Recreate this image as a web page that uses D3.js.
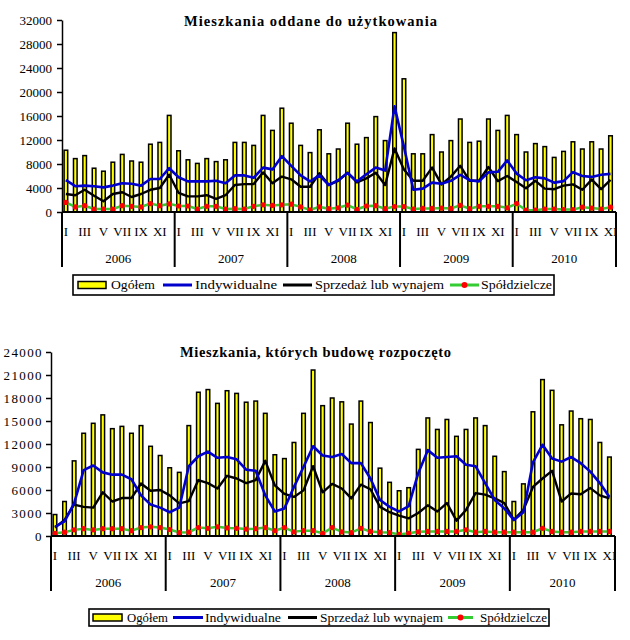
<!DOCTYPE html>
<html><head><meta charset="utf-8">
<script src="https://cdn.jsdelivr.net/npm/d3@7/dist/d3.min.js"></script>
<style>
body{margin:0;background:#fff}
svg{display:block}
text{font-family:"Liberation Serif","Times New Roman",Tinos,serif;fill:#000}
</style>
</head><body>
<svg id="chart" width="630" height="640"></svg>
<script>
// ---------- DATA ----------
const years = ["2006", "2007", "2008", "2009", "2010"];
const romanMonths = ["I","II","III","IV","V","VI","VII","VIII","IX","X","XI","XII"];
const shownMonthLabels = ["I","III","V","VII","IX","XI"];
const seriesNames = ["Ogółem", "Indywidualne", "Sprzedaż lub wynajem", "Spółdzielcze"];
const titleTop = "Mieszkania oddane do użytkowania";
const titleBottom = "Mieszkania, których budowę rozpoczęto";
const yTicksTop = [0, 4000, 8000, 12000, 16000, 20000, 24000, 28000, 32000];
const yTicksBottom = [0, 3000, 6000, 9000, 12000, 15000, 18000, 21000, 24000];

// Mieszkania oddane do użytkowania (I 2006 – XI 2010)
const completedTotal = [
  10300, 8900, 9400, 7300, 6800, 8300, 9600, 8500, 8300, 11300, 11600, 16100,
  10200, 8700, 8100, 8900, 8400, 8700, 11600, 11600, 11100, 16100, 13600, 17300,
  14800, 11100, 9900, 13700, 9700, 10500, 14800, 11300, 12400, 15900, 11900, 29900,
  22200, 9700, 9700, 12900, 10000, 11900, 15500, 11600, 11800, 15500, 13600, 16100,
  12900, 10000, 11400, 10900, 9100, 10100, 11700, 10500, 11700, 10500, 12700
];
const completedIndividual = [
  5300, 4300, 4400, 4300, 4100, 4400, 4800, 4700, 4400, 5500, 5500, 7300,
  5800, 5100, 5100, 5100, 5200, 4800, 6100, 6100, 5700, 7400, 7100, 9300,
  7700, 6100, 5100, 6100, 4500, 5300, 6500, 5100, 6300, 7400, 6900, 17600,
  10900, 3700, 3900, 4900, 4700, 5200, 6200, 5300, 5100, 6600, 6700, 8600,
  6400, 5300, 5800, 5600, 4900, 5150, 6650, 6000, 5850, 6200, 6350
];
const completedSale = [
  3000, 2800, 3700, 2700, 1800, 3000, 3300, 2500, 3000, 3700, 4000, 6200,
  3200, 2600, 2600, 2800, 2200, 2800, 4500, 4650, 4650, 6600, 4800, 5900,
  5450, 4200, 4200, 6450, 4500, 5200, 6550, 4950, 5600, 6550, 4500, 10600,
  7100, 5200, 5200, 7400, 4600, 5900, 7700, 5200, 5200, 7500, 5150, 6000,
  5000, 3950, 5200, 3900, 3800, 4400, 4600, 3700, 5400, 3800, 5350
];
const completedCoop = [
  1600, 850, 1050, 500, 500, 500, 1050, 950, 850, 1400, 1050, 1350,
  1000, 1000, 500, 950, 950, 500, 550, 500, 950, 1200, 1100, 1200,
  1300, 850, 350, 850, 550, 700, 1150, 450, 1000, 1050, 550, 900,
  900, 500, 600, 600, 650, 600, 1100, 550, 950, 950, 950, 700,
  1400, 300, 300, 500, 500, 400, 400, 800, 650, 500, 800
];

// Mieszkania, których budowę rozpoczęto (I 2006 – XI 2010)
const startedTotal = [
  2800, 4500, 9800, 13400, 14700, 15800, 14000, 14300, 13400, 14400, 11700, 10500,
  8900, 8300, 14400, 18750, 19100, 17300, 18950, 18600, 17450, 17600, 16000, 10600,
  10100, 12200, 16000, 21650, 17000, 18000, 17500, 14600, 17600, 14800, 8850, 7000,
  5900, 6300, 11300, 15400, 13900, 15200, 13000, 13900, 15400, 14400, 10400, 8400,
  4500, 6800, 16200, 20400, 19000, 14500, 16300, 15300, 15200, 12200, 10300
];
const startedIndividual = [
  1200, 1900, 4250, 8600, 9200, 8300, 8000, 8000, 7400, 5300, 4100, 3700,
  3100, 3700, 9100, 10400, 11000, 10200, 10300, 10000, 8650, 8500, 5300, 3200,
  3600, 6400, 9000, 11700, 10500, 10300, 10700, 9500, 9500, 7500, 4700, 3800,
  3200, 3900, 8200, 11200, 10200, 10300, 10400, 9300, 9100, 6900, 4700, 3600,
  2100, 3100, 9600, 11900, 10100, 9700, 10300, 9500, 8400, 6900, 5100
];
const startedSale = [
  1100, 2100, 4100, 3800, 3700, 5700, 4500, 4950, 4950, 6850, 5900, 6000,
  5300, 4250, 4550, 7300, 6900, 6200, 7850, 7500, 6900, 7300, 9800, 6600,
  5500, 5100, 5950, 9100, 5700, 6800, 6200, 4900, 6700, 6100, 3800, 3100,
  2650, 2300, 3000, 4000, 3200, 4300, 2000, 3400, 5600, 5400, 4900, 4300,
  2100, 3400, 6400, 7500, 8500, 4500, 5550, 5450, 6250, 5300, 4900
];
const startedCoop = [
  350, 500, 800, 950, 800, 950, 950, 950, 700, 1100, 1200, 1100,
  850, 450, 500, 1100, 1000, 1200, 1050, 1000, 900, 950, 1100, 700,
  1100, 550, 700, 700, 350, 1100, 550, 450, 1000, 600, 500, 450,
  200, 350, 550, 600, 600, 600, 600, 800, 500, 600, 500, 500,
  500, 500, 500, 1000, 600, 500, 500, 600, 600, 600, 600
];

// ---------- BUILD ----------
const months = [];
years.forEach((yr, yi) => romanMonths.forEach((m, mi) => {
  if (months.length < completedTotal.length) months.push({key: yr + "-" + m, year: yr, yi, mi, roman: m});
}));

const colors = {bar: "#ffff00", ind: "#0000cc", sale: "#000000", coop: "#33cc33", dot: "#ff0000"};
const FONT = '"Liberation Serif","Times New Roman",Tinos,serif';
const svg = d3.select("#chart");

function drawPanel(cfg) {
  const g = svg.append("g");
  const x = d3.scaleBand().domain(months.map(d => d.key)).range([cfg.x0, cfg.x1]).paddingInner(0).paddingOuter(0);
  const y = d3.scaleLinear().domain([0, cfg.max]).range([cfg.y0, cfg.y1]);
  const cx = k => x(k) + x.bandwidth() / 2 - 0.8;

  // bars
  const bw = 3.6;
  g.append("g").selectAll("rect").data(months).join("rect")
    .attr("x", (d) => cx(d.key) - bw / 2)
    .attr("y", (d, i) => y(cfg.total[i]))
    .attr("width", bw)
    .attr("height", (d, i) => cfg.y0 - y(cfg.total[i]))
    .attr("fill", colors.bar).attr("stroke", "#000").attr("stroke-width", 1.5);

  const lineGen = arr => d3.line().x((d) => cx(d.key)).y((d, i) => y(arr[i]))(months);

  g.append("path").attr("d", lineGen(cfg.coop)).attr("fill", "none")
    .attr("stroke", colors.coop).attr("stroke-width", 2.5);
  g.append("g").selectAll("circle").data(months).join("circle")
    .attr("cx", d => cx(d.key)).attr("cy", (d, i) => y(cfg.coop[i])).attr("r", 2.6)
    .attr("fill", colors.dot);
  g.append("path").attr("d", lineGen(cfg.sale)).attr("fill", "none")
    .attr("stroke", colors.sale).attr("stroke-width", 2.4).attr("stroke-linejoin", "round");
  g.append("path").attr("d", lineGen(cfg.ind)).attr("fill", "none")
    .attr("stroke", colors.ind).attr("stroke-width", 2.6).attr("stroke-linejoin", "round");

  // y axis
  const ya = g.append("g").attr("transform", `translate(${cfg.x0},0)`)
    .call(d3.axisLeft(y).tickValues(cfg.ticks).tickSize(5).tickSizeOuter(0).tickFormat(d3.format("d")));
  ya.attr("font-family", FONT);
  ya.selectAll("path,line").attr("stroke", "#000").attr("stroke-width", 1.5);
  ya.selectAll("text").attr("font-size", 13).style("font-family", FONT)
    .attr("letter-spacing", cfg.tickSpacing).attr("dx", cfg.tickDx).attr("fill", "#000");

  // x axis line
  g.append("line").attr("x1", cfg.x0).attr("x2", cfg.x1).attr("y1", cfg.y0).attr("y2", cfg.y0)
    .attr("stroke", "#000").attr("stroke-width", 2.2);

  // year separators
  const sepX = years.map((yr, yi) => x(months[yi * 12].key)).concat([cfg.x1]);
  g.append("g").selectAll("line").data(sepX).join("line")
    .attr("x1", d => d).attr("x2", d => d).attr("y1", cfg.y0).attr("y2", cfg.y0 + 55)
    .attr("stroke", "#000").attr("stroke-width", 2);

  // month labels
  const labeled = months.filter(d => shownMonthLabels.includes(d.roman));
  g.append("g").selectAll("text").data(labeled).join("text")
    .attr("x", d => cx(d.key)).attr("y", cfg.y0 + 24).attr("text-anchor", "middle")
    .attr("font-size", 13).text(d => d.roman);

  // year labels
  g.append("g").selectAll("text").data(years).join("text")
    .attr("x", (d, i) => (sepX[i] + sepX[i + 1]) / 2).attr("y", cfg.y0 + 51)
    .attr("text-anchor", "middle").attr("font-size", 13).text(d => d);

  // title
  g.append("text").attr("x", cfg.title.x).attr("y", cfg.title.y)
    .attr("font-size", 14.5).attr("font-weight", "bold")
    .attr("textLength", cfg.title.w).attr("lengthAdjust", "spacing").text(cfg.title.text);

  // legend
  const L = cfg.legend;
  const lg = g.append("g");
  lg.append("rect").attr("x", L.box[0]).attr("y", L.box[1]).attr("width", L.box[2] - L.box[0])
    .attr("height", L.box[3] - L.box[1]).attr("fill", "#fff").attr("stroke", "#000").attr("stroke-width", 1.6);
  const cy = (L.box[1] + L.box[3]) / 2;
  lg.append("rect").attr("x", L.sw[0][0]).attr("y", cy - 3.5).attr("width", L.sw[0][1] - L.sw[0][0])
    .attr("height", 7).attr("fill", colors.bar).attr("stroke", "#000").attr("stroke-width", 1.5);
  const lineCols = [colors.ind, colors.sale, colors.coop];
  [1, 2, 3].forEach(k => {
    lg.append("line").attr("x1", L.sw[k][0]).attr("x2", L.sw[k][1]).attr("y1", cy).attr("y2", cy)
      .attr("stroke", lineCols[k - 1]).attr("stroke-width", 3);
  });
  lg.append("circle").attr("cx", (L.sw[3][0] + L.sw[3][1]) / 2).attr("cy", cy).attr("r", 3).attr("fill", colors.dot);
  seriesNames.forEach((name, k) => {
    lg.append("text").attr("x", L.tx[k][0]).attr("y", L.baseline).attr("font-size", 13)
      .attr("textLength", L.tx[k][1] - L.tx[k][0]).attr("lengthAdjust", "spacingAndGlyphs").text(name);
  });
}

drawPanel({
  x0: 62, x1: 616, y0: 212, y1: 20, max: 32000, ticks: yTicksTop, tickSpacing: 0, tickDx: -2,
  total: completedTotal, ind: completedIndividual, sale: completedSale, coop: completedCoop,
  title: {text: titleTop, x: 184, y: 26, w: 253},
  legend: {box: [73, 275, 554, 295], baseline: 289,
    sw: [[78, 106], [163, 192], [283, 312], [450, 479]],
    tx: [[111, 155], [195, 277], [315, 444], [481, 552]]}
});

drawPanel({
  x0: 51, x1: 615, y0: 536, y1: 352, max: 24000, ticks: yTicksBottom, tickSpacing: 1.4, tickDx: 0,
  total: startedTotal, ind: startedIndividual, sale: startedSale, coop: startedCoop,
  title: {text: titleBottom, x: 180, y: 357, w: 271},
  legend: {box: [89, 609, 549, 626], baseline: 621.5,
    sw: [[93, 122], [173, 203], [288, 317], [448, 473]],
    tx: [[127, 168], [205, 281], [320, 443], [480, 547]]}
});
</script>
</body></html>
